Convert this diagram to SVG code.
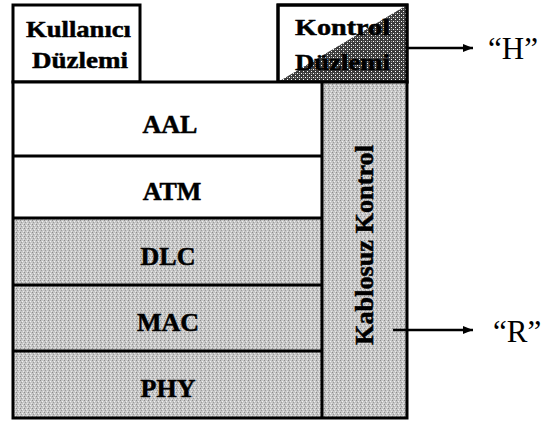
<svg xmlns="http://www.w3.org/2000/svg" width="554" height="423" viewBox="0 0 554 423">
<defs>
<pattern id="stip" width="4" height="4" patternUnits="userSpaceOnUse">
<rect width="4" height="4" fill="#c6c6c6"/>
<rect x="0" y="0" width="1" height="1" fill="#8c8c8c"/>
<rect x="2" y="1" width="1" height="1" fill="#f0f0f0"/>
<rect x="1" y="2" width="1" height="1" fill="#9a9a9a"/>
<rect x="3" y="3" width="1" height="1" fill="#e8e8e8"/>
</pattern>
<pattern id="hatch" width="4" height="4" patternUnits="userSpaceOnUse">
<rect width="4" height="4" fill="#3c3c3c"/>
<rect x="1" y="1" width="1" height="1" fill="#ffffff"/>
<rect x="3" y="3" width="1" height="1" fill="#ffffff"/>
<rect x="3" y="1" width="1" height="1" fill="#9a9a9a"/>
</pattern>
<marker id="ah" viewBox="0 0 10 8" refX="10" refY="4" markerWidth="10" markerHeight="8" markerUnits="userSpaceOnUse" orient="auto">
<path d="M0,0 L10,4 L0,8 Z" fill="#000"/>
</marker>
<style>
.b{stroke:#000;stroke-width:3}
.t{font-family:"Liberation Serif","Times New Roman",serif;font-weight:bold;fill:#000;stroke:#000;stroke-width:0.5}
.lay{font-size:26px;text-anchor:middle}
.top{font-size:24px;text-anchor:middle}
.q{font-family:"Liberation Serif","Times New Roman",serif;font-size:31px;fill:#000}
.c{stroke:#000;stroke-width:2.5;fill:none}
</style>
</defs>
<g id="kullanici">
<rect x="13" y="5" width="127" height="77" fill="#fff" class="b"/>
<text class="t top" x="78.5" y="37" textLength="105" lengthAdjust="spacingAndGlyphs">Kullanıcı</text>
<text class="t top" x="80" y="68" textLength="96" lengthAdjust="spacingAndGlyphs">Düzlemi</text>
</g>
<g id="kontrol">
<rect x="278" y="5" width="129" height="77" fill="#fff" class="b"/>
<polygon points="278,82 407,5 407,82" fill="url(#hatch)"/>
<rect x="278" y="5" width="129" height="77" fill="none" class="b"/>
<text class="t top" x="342.5" y="35" textLength="95" lengthAdjust="spacingAndGlyphs">Kontrol</text>
<text class="t top" x="342.5" y="70" textLength="95" lengthAdjust="spacingAndGlyphs">Düzlemi</text>
</g>
<g id="aal">
<rect x="13" y="82" width="309" height="74" fill="#fff"/>
<text class="t lay" x="170" y="133">AAL</text>
</g>
<g id="atm">
<rect x="13" y="156" width="309" height="62" fill="#fff"/>
<text class="t lay" x="172" y="200">ATM</text>
</g>
<g id="dlc">
<rect x="13" y="218" width="309" height="67" fill="url(#stip)"/>
<text class="t lay" x="168" y="265">DLC</text>
</g>
<g id="mac">
<rect x="13" y="285" width="309" height="66" fill="url(#stip)"/>
<text class="t lay" x="168" y="331">MAC</text>
</g>
<g id="phy">
<rect x="13" y="351" width="309" height="67" fill="url(#stip)"/>
<text class="t lay" x="168" y="397">PHY</text>
</g>
<g id="kablosuz">
<rect x="322" y="82" width="85" height="336" fill="url(#stip)"/>
<text class="t" font-size="26" text-anchor="middle" transform="translate(373,245) rotate(-90)" textLength="200" lengthAdjust="spacingAndGlyphs">Kablosuz Kontrol</text>
</g>
<g id="frame" fill="none" class="b">
<rect x="13" y="82" width="394" height="336"/>
<line x1="322" y1="82" x2="322" y2="418"/>
<line x1="13" y1="156" x2="322" y2="156"/>
<line x1="13" y1="218" x2="322" y2="218"/>
<line x1="13" y1="285" x2="322" y2="285"/>
<line x1="13" y1="351" x2="322" y2="351"/>
</g>
<g id="connectors">
<line class="c" x1="407" y1="48" x2="473" y2="48" marker-end="url(#ah)"/>
<line class="c" x1="393" y1="330" x2="473" y2="330" marker-end="url(#ah)"/>
</g>
<g id="h">
<text class="q" x="488" y="59">“H”</text>
</g>
<g id="r">
<text class="q" x="493" y="342">“R”</text>
</g>
</svg>
